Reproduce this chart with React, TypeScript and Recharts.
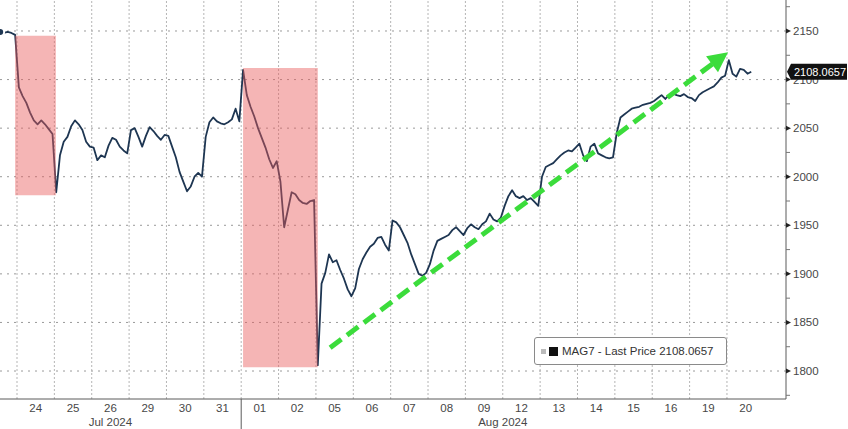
import { LineChart, Line, XAxis, YAxis, ReferenceLine, ReferenceArea, Legend } from 'recharts';

// MAG7 last price, one array per trading session, 10 evenly spaced samples per full day
const jul23 = [2150, 2152, 2149, 2151, 2150, 2149, 2148, 2149, 2148, 2146];
const jul24 = [2092, 2083, 2076, 2066, 2058, 2054, 2058, 2054, 2049, 2044];
const jul25 = [1984, 2022, 2036, 2041, 2052, 2058, 2054, 2048, 2036, 2031];
const jul26 = [2030, 2017, 2022, 2020, 2032, 2040, 2038, 2031, 2027, 2024];
const jul29 = [2048, 2050, 2041, 2031, 2042, 2051, 2047, 2042, 2038, 2043];
const jul30 = [2042, 2031, 2020, 2005, 1995, 1985, 1990, 2000, 2004, 2000];
const jul31 = [2041, 2056, 2061, 2057, 2055, 2054, 2056, 2059, 2070, 2057];
const aug01 = [2110, 2084, 2072, 2062, 2050, 2040, 2030, 2018, 2009, 2016];
const aug02 = [1995, 1948, 1966, 1984, 1982, 1976, 1973, 1972, 1975, 1976];
const aug05 = [1806, 1890, 1901, 1920, 1912, 1914, 1904, 1895, 1884, 1877];
const aug06 = [1885, 1905, 1915, 1922, 1928, 1931, 1937, 1938, 1930, 1924];
const aug07 = [1955, 1953, 1948, 1940, 1932, 1920, 1910, 1900, 1898, 1901];
const aug08 = [1910, 1924, 1934, 1936, 1938, 1940, 1945, 1948, 1944, 1940];
const aug09 = [1947, 1951, 1948, 1946, 1951, 1954, 1962, 1956, 1954, 1958];
const aug12 = [1970, 1980, 1986, 1980, 1978, 1980, 1976, 1978, 1974, 1970];
const aug13 = [2000, 2010, 2012, 2014, 2018, 2022, 2025, 2027, 2026, 2030];
const aug14 = [2034, 2022, 2016, 2031, 2034, 2024, 2022, 2020, 2019, 2020];
const aug15 = [2045, 2061, 2064, 2067, 2070, 2071, 2072, 2074, 2075, 2076];
const aug16 = [2078, 2081, 2084, 2080, 2084, 2086, 2084, 2083, 2085, 2082];
const aug19 = [2081, 2078, 2084, 2087, 2089, 2091, 2093, 2097, 2102, 2104];
const aug20 = [2120, 2106, 2103, 2111, 2110, 2106, 2108.0657];

const sessions = [jul23, jul24, jul25, jul26, jul29, jul30, jul31, aug01, aug02, aug05, aug06, aug07, aug08, aug09, aug12, aug13, aug14, aug15, aug16, aug19, aug20];
const dayLabels = ['24', '25', '26', '29', '30', '31', '01', '02', '05', '06', '07', '08', '09', '12', '13', '14', '15', '16', '19', '20'];
const monthNames = ['Jul 2024', 'Aug 2024'];
const monthTicks = [2.5, 13];
const monthBoundary = 6;

const yMajor = [1800, 1850, 1900, 1950, 2000, 2050, 2100, 2150];
const yMinor = [1775, 1825, 1875, 1925, 1975, 2025, 2075, 2125, 2175];

// shaded sell-off windows (day units / price)
const selloffs = [
  { x1: -0.05, x2: 1.04, y1: 1981, y2: 2145 },
  { x1: 6.05, x2: 8.05, y1: 1804, y2: 2112 },
];
const trendStart = { x: 8.38, y: 1824 };
const trendEnd = { x: 19.03, y: 2128 };

const slotsPerDay = 10;
const firstDay = -1;
const lastPrice = aug20[aug20.length - 1];

const priceData = sessions.flatMap((vals, s) =>
  vals.map((v, i) => ({ x: firstDay + s + (i + 0.5) / slotsPerDay, price: v }))
);
const dayCenters = dayLabels.map((_, k) => k + 0.5);
const dayBounds = dayLabels.map((_, k) => k);
const xTicks = [...dayCenters, monthBoundary, monthTicks[1]];
const yTicks = [...yMajor, ...yMinor].sort((a, b) => a - b);

const FONT = '"Liberation Sans", Arial, sans-serif';
const TEXT = '#474747';
const AXIS = '#5a5a5a';
const GREEN = '#3bdc3b';

function DayTick({ x, y, payload }: any) {
  const v = payload.value;
  const d = dayCenters.indexOf(v);
  const m = monthTicks.indexOf(v);
  return (
    <g>
      {v === monthBoundary && <line x1={x} x2={x} y1={y} y2={y + 30} stroke={AXIS} strokeWidth={1} />}
      {d >= 0 && (
        <text x={x} y={y + 13} textAnchor="middle" fontSize={11.5} fontFamily={FONT} fill={TEXT}>
          {dayLabels[d]}
        </text>
      )}
      {m >= 0 && (
        <text x={x} y={y + 27} textAnchor="middle" fontSize={11.5} fontFamily={FONT} fill={TEXT}>
          {monthNames[m]}
        </text>
      )}
    </g>
  );
}

function PriceTick({ x, y, payload }: any) {
  const ax = x - 7;
  if (payload.value % 50 !== 0) {
    return <line x1={ax} x2={ax + 4} y1={y} y2={y} stroke="#777" />;
  }
  return (
    <g>
      <path d={`M${ax},${y - 2.5}L${ax + 5},${y}L${ax},${y + 2.5}Z`} fill="#222" />
      <text x={x} y={y + 4} fontSize={11.5} fontFamily={FONT} fill={TEXT}>
        {payload.value}
      </text>
    </g>
  );
}

function TrendArrow(p: any) {
  const { x1, y1, x2, y2 } = p;
  const dx = x2 - x1;
  const dy = y2 - y1;
  const len = Math.hypot(dx, dy);
  const ux = dx / len;
  const uy = dy / len;
  const head = 20;
  const half = 10;
  const bx = x2 - ux * head;
  const by = y2 - uy * head;
  return (
    <g>
      <line x1={x1} y1={y1} x2={bx + ux * 2} y2={by + uy * 2} stroke={GREEN} strokeWidth={5} strokeDasharray="14 7" />
      <polygon points={`${x2},${y2} ${bx - uy * half},${by + ux * half} ${bx + uy * half},${by - ux * half}`} fill={GREEN} />
    </g>
  );
}

function PriceTag(props: any) {
  const vb = props.viewBox;
  const rx = vb.x + vb.width;
  const cy = vb.y;
  return (
    <g>
      <path d={`M${rx + 1},${cy}L${rx + 5},${cy - 8}H${rx + 61}V${cy + 8}H${rx + 5}Z`} fill="#111" />
      <text x={rx + 34} y={cy + 4} textAnchor="middle" fontSize={11} fontFamily={FONT} fill="#fff">
        {lastPrice.toFixed(4)}
      </text>
    </g>
  );
}

function LegendBox({ payload }: any) {
  const name = payload?.[0]?.value ?? 'MAG7 - Last Price';
  return (
    <div
      style={{
        boxSizing: 'border-box',
        height: 28,
        border: '1px solid #8a8a8a',
        borderRadius: 3,
        background: '#fff',
        display: 'flex',
        alignItems: 'center',
        padding: '0 6px',
        fontFamily: FONT,
        fontSize: 11.5,
        color: '#333',
        whiteSpace: 'nowrap',
      }}
    >
      <span style={{ display: 'inline-block', width: 5, height: 5, background: '#bbb', marginRight: 3 }} />
      <span style={{ display: 'inline-block', width: 9, height: 9, background: '#111', marginRight: 4 }} />
      <span>
        {name} {lastPrice.toFixed(4)}
      </span>
    </div>
  );
}

export default function App() {
  return (
    <div style={{ position: 'absolute', left: 0, top: 0, width: 848, height: 429, background: '#fff' }}>
      <LineChart width={848} height={429} data={priceData} margin={{ top: 0, right: 0, bottom: 0, left: 0 }}>
        {yMajor.map((v) => (
          <ReferenceLine key={`h${v}`} y={v} stroke="#9a9a9a" strokeDasharray="2 5" />
        ))}
        {dayBounds.map((v) => (
          <ReferenceLine key={`v${v}`} x={v} stroke="#b5b5b5" strokeDasharray="2 2" />
        ))}
        <XAxis
          type="number"
          dataKey="x"
          domain={[-0.455, 20.58]}
          allowDataOverflow
          ticks={xTicks}
          interval={0}
          tick={<DayTick />}
          tickLine={false}
          tickSize={0}
          tickMargin={0}
          axisLine={{ stroke: AXIS }}
          height={30}
        />
        <YAxis
          orientation="right"
          type="number"
          domain={[1771.2, 2181.9]}
          allowDataOverflow
          ticks={yTicks}
          interval={0}
          tick={<PriceTick />}
          tickLine={false}
          tickSize={0}
          tickMargin={7}
          axisLine={{ stroke: AXIS }}
          width={62}
        />
        <Line
          dataKey="price"
          name="MAG7 - Last Price"
          stroke="#1e3652"
          strokeWidth={1.8}
          strokeLinejoin="round"
          dot={false}
          isAnimationActive={false}
        />
        {selloffs.map((s, i) => (
          <ReferenceArea key={i} x1={s.x1} x2={s.x2} y1={s.y1} y2={s.y2} fill="#e85c5c" fillOpacity={0.45} stroke="none" zIndex={450} />
        ))}
        <ReferenceLine segment={[trendStart, trendEnd]} shape={TrendArrow} zIndex={600} />
        <ReferenceLine y={lastPrice} stroke="none" label={PriceTag} zIndex={2100} />
        <Legend
          verticalAlign="middle"
          align="center"
          layout="horizontal"
          content={<LegendBox />}
          wrapperStyle={{ left: 534, top: 337, width: 193, height: 28 }}
        />
      </LineChart>
    </div>
  );
}
